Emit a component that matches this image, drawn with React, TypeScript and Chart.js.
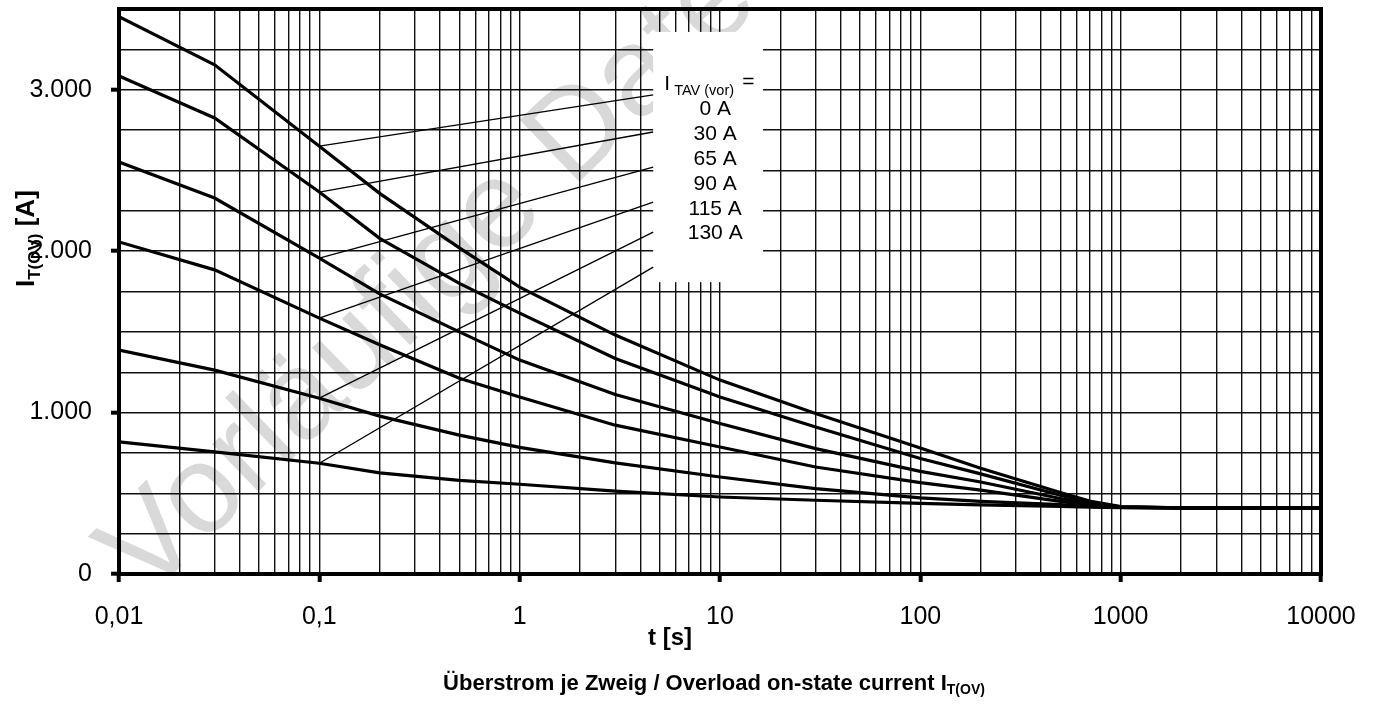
import React, { useEffect, useRef } from "react";
import { Chart, registerables } from "chart.js";

Chart.register(...registerables);

// ---------- data ----------
const times = [0.01, 0.03, 0.1, 0.2, 0.5, 1, 3, 10, 30, 100, 200, 500, 700, 1000, 2000, 10000];
const seriesLabels = ["0 A", "30 A", "65 A", "90 A", "115 A", "130 A"];
const curve0 = [3453, 3154, 2650, 2358, 2020, 1777, 1480, 1201, 994, 780, 655, 505, 452, 418, 410, 410];
const curve30 = [3085, 2825, 2366, 2079, 1800, 1616, 1335, 1097, 911, 715, 620, 488, 442, 416, 410, 410];
const curve65 = [2552, 2329, 1957, 1735, 1500, 1325, 1112, 932, 777, 636, 570, 468, 433, 414, 410, 410];
const curve90 = [2057, 1884, 1585, 1420, 1213, 1097, 922, 787, 663, 566, 520, 450, 426, 413, 410, 410];
const curve115 = [1387, 1263, 1089, 978, 860, 784, 688, 601, 529, 472, 450, 430, 419, 412, 410, 410];
const curve130 = [818, 756, 686, 626, 580, 556, 513, 477, 457, 437, 428, 418, 414, 411, 410, 410];
const curves = [curve0, curve30, curve65, curve90, curve115, curve130];

// leader lines from each curve (at t = 0.1 s) to the legend box
const leaderT = [0.1, 4.64];
const leaderEnds = [2968, 2738, 2521, 2304, 2118, 1901];

// legend box in data coordinates
const boxT = [4.64, 16.4];
const boxI = [1808, 3358];

// axes
const xDecades = [0.01, 0.1, 1, 10, 100, 1000, 10000];
const xTickLabels = ["0,01", "0,1", "1", "10", "100", "1000", "10000"];
const yTickValues = [0, 1000, 2000, 3000];
const yTickLabels = ["0", "1.000", "2.000", "3.000"];
const yMax = 3500;
const yStep = 250;

const FONT = '"Liberation Sans", Arial, Helvetica, sans-serif';

function decadeIndex(v: number): number {
  const l = Math.log10(v);
  const r = Math.round(l);
  if (Math.abs(l - r) < 1e-6) return r + 2;
  return -1;
}

const decorPlugin = {
  id: "decor",
  beforeDraw(chart: any) {
    const ctx = chart.ctx;
    ctx.save();
    ctx.fillStyle = "#d9d9d9";
    ctx.font = `125px ${FONT}`;
    ctx.textBaseline = "alphabetic";
    ctx.translate(147, 599);
    ctx.rotate((-44 * Math.PI) / 180);
    ctx.fillText("Vorläufige Daten", 0, 0);
    ctx.restore();
  },
  beforeDatasetsDraw(chart: any) {
    const { ctx, scales } = chart;
    const x1 = scales.x.getPixelForValue(boxT[0]);
    const x2 = scales.x.getPixelForValue(boxT[1]);
    const y1 = scales.y.getPixelForValue(boxI[1]);
    const y2 = scales.y.getPixelForValue(boxI[0]);
    ctx.save();
    ctx.fillStyle = "#ffffff";
    ctx.fillRect(x1, y1, x2 - x1, y2 - y1);
    ctx.restore();
  },
  afterDraw(chart: any) {
    const { ctx, chartArea, scales } = chart;
    ctx.save();
    // frame
    ctx.strokeStyle = "#000";
    ctx.lineWidth = 4;
    ctx.strokeRect(chartArea.left, chartArea.top, chartArea.right - chartArea.left, chartArea.bottom - chartArea.top);

    ctx.fillStyle = "#000";
    ctx.textBaseline = "alphabetic";

    // legend box text
    const bx = scales.x.getPixelForValue(boxT[0]);
    const by = scales.y.getPixelForValue(boxI[1]);
    ctx.font = `21px ${FONT}`;
    ctx.textAlign = "left";
    ctx.fillText("I", bx + 11, by + 58);
    ctx.font = `14.5px ${FONT}`;
    ctx.fillText("TAV (vor)", bx + 21, by + 63);
    ctx.font = `21px ${FONT}`;
    ctx.fillText("=", bx + 89, by + 56);
    ctx.textAlign = "center";
    seriesLabels.forEach((s, i) => {
      ctx.fillText(s, bx + 62, by + 83 + i * 24.9);
    });

    // x axis short title
    ctx.font = `bold 24px ${FONT}`;
    ctx.textAlign = "center";
    ctx.fillText("t [s]", 670, 645);

    // bottom title
    const main = "Überstrom je Zweig / Overload on-state current I";
    const sub = "T(OV)";
    ctx.font = `bold 22px ${FONT}`;
    const w1 = ctx.measureText(main).width;
    ctx.font = `bold 14px ${FONT}`;
    const w2 = ctx.measureText(sub).width;
    const start = 714 - (w1 + w2) / 2;
    ctx.textAlign = "left";
    ctx.font = `bold 22px ${FONT}`;
    ctx.fillText(main, start, 690);
    ctx.font = `bold 14px ${FONT}`;
    ctx.fillText(sub, start + w1, 694);

    // y axis title (rotated)
    ctx.save();
    ctx.translate(34, 287);
    ctx.rotate(-Math.PI / 2);
    ctx.textAlign = "left";
    ctx.font = `bold 26px ${FONT}`;
    ctx.fillText("I", 0, 0);
    const wi = ctx.measureText("I").width;
    ctx.font = `bold 17px ${FONT}`;
    ctx.fillText("T(OV)", wi, 6);
    const wsub = ctx.measureText("T(OV)").width;
    ctx.font = `bold 26px ${FONT}`;
    ctx.fillText(" [A]", wi + wsub, 0);
    ctx.restore();

    ctx.restore();
  },
};

export default function App() {
  const ref = useRef<HTMLCanvasElement>(null);

  useEffect(() => {
    const canvas = ref.current;
    if (!canvas) return;

    const curveSets = curves.map((c, i) => ({
      label: seriesLabels[i],
      data: times.map((t, j) => ({ x: t, y: c[j] })),
      borderColor: "#000",
      borderWidth: 3.2,
      pointRadius: 0,
      tension: 0,
      fill: false,
    }));
    const leaderSets = curves.map((c, i) => ({
      label: "leader " + seriesLabels[i],
      data: [
        { x: leaderT[0], y: c[times.indexOf(leaderT[0])] },
        { x: leaderT[1], y: leaderEnds[i] },
      ],
      borderColor: "#000",
      borderWidth: 1.3,
      pointRadius: 0,
      tension: 0,
      fill: false,
    }));

    const xTickValues: number[] = [];
    xDecades.forEach((d, i) => {
      if (i === xDecades.length - 1) {
        xTickValues.push(d);
      } else {
        for (let m = 1; m <= 9; m++) xTickValues.push(m * d);
      }
    });

    const chart = new Chart(canvas, {
      type: "line",
      data: { datasets: [...leaderSets, ...curveSets] as any },
      options: {
        animation: false,
        responsive: false,
        devicePixelRatio: 1,
        layout: { padding: { top: 9, right: 54, left: 0, bottom: 0 } },
        plugins: { legend: { display: false }, tooltip: { enabled: false }, title: { display: false } },
        scales: {
          x: {
            type: "logarithmic",
            min: 0.01,
            max: 10000,
            afterBuildTicks: (scale: any) => {
              scale.ticks = xTickValues.map((v) => ({ value: v }));
            },
            afterFit: (scale: any) => {
              scale.height = 130;
              scale.paddingLeft = 0;
              scale.paddingRight = 0;
            },
            border: { display: false },
            grid: {
              color: "#111",
              lineWidth: 1.4,
              tickLength: 8,
              tickColor: (c: any) => (c.tick && decadeIndex(c.tick.value) >= 0 ? "#000" : "rgba(0,0,0,0)"),
              tickWidth: (c: any) => (c.tick && decadeIndex(c.tick.value) >= 0 ? 4 : 1),
            },
            ticks: {
              autoSkip: false,
              maxRotation: 0,
              minRotation: 0,
              padding: 20,
              color: "#000",
              font: { family: FONT, size: 25 },
              callback: (v: any) => {
                const i = decadeIndex(Number(v));
                return i >= 0 ? xTickLabels[i] : "";
              },
            },
          },
          y: {
            type: "linear",
            min: 0,
            max: yMax,
            afterFit: (scale: any) => {
              scale.width = 119;
              scale.paddingTop = 0;
              scale.paddingBottom = 0;
            },
            border: { display: false },
            grid: {
              color: "#111",
              lineWidth: 1.4,
              tickLength: 8,
              tickColor: (c: any) => (c.tick && yTickValues.includes(c.tick.value) ? "#000" : "rgba(0,0,0,0)"),
              tickWidth: (c: any) => (c.tick && yTickValues.includes(c.tick.value) ? 4 : 1),
            },
            ticks: {
              stepSize: yStep,
              autoSkip: false,
              padding: 19,
              color: "#000",
              font: { family: FONT, size: 25 },
              callback: (v: any) => {
                const i = yTickValues.indexOf(Number(v));
                return i >= 0 ? yTickLabels[i] : "";
              },
            },
          },
        },
      },
      plugins: [decorPlugin],
    });

    return () => chart.destroy();
  }, []);

  return (
    <div style={{ position: "fixed", left: 0, top: 0, width: 1375, height: 704, background: "#fff" }}>
      <canvas ref={ref} width={1375} height={704} style={{ display: "block" }} />
    </div>
  );
}
